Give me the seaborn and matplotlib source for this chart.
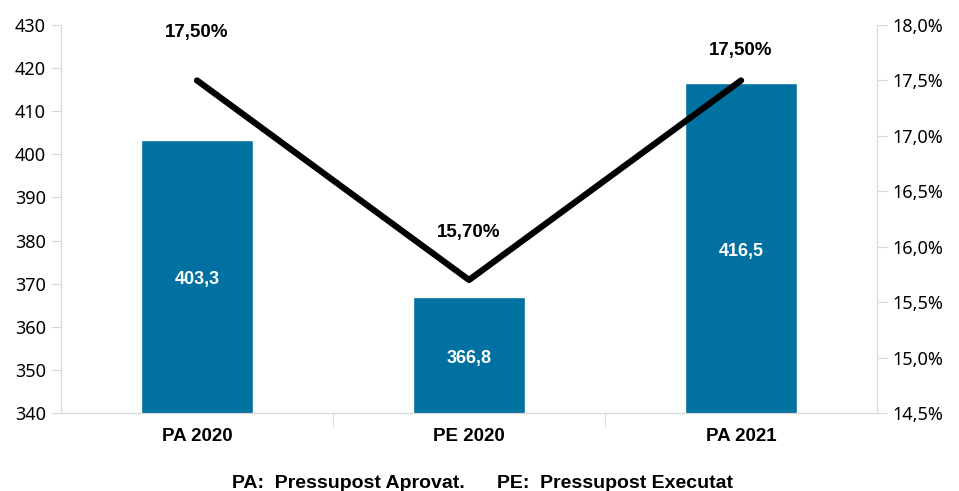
import matplotlib
matplotlib.use('Agg')
import matplotlib.pyplot as plt
import seaborn as sns

categories = ['PA 2020', 'PE 2020', 'PA 2021']
imports = [403.3, 366.8, 416.5]
percents = [17.5, 15.7, 17.5]

sns.set_style('white')
plt.rcParams['font.family'] = ['Noto Sans', 'DejaVu Sans']
plt.rcParams['text.color'] = 'black'
plt.rcParams['xtick.color'] = 'black'
plt.rcParams['ytick.color'] = 'black'
bold_font = ['Liberation Sans', 'DejaVu Sans']

fig = plt.figure(figsize=(9.59, 4.91), dpi=100)
ax = fig.add_axes([0.0636, 0.159, 0.851, 0.790])

sns.barplot(x=categories, y=imports, color='#0071a1', saturation=1, width=0.41, ax=ax)
ax.set_ylim(340, 430)
ax.set_yticks(range(340, 431, 10))
ax.set_xlim(-0.5, 2.5)

grey = '#d9d9d9'
for s in ['left', 'bottom', 'right']:
    ax.spines[s].set_color(grey)
ax.spines['top'].set_visible(False)
ax.tick_params(axis='y', left=True, length=7, color=grey, labelcolor='black', labelsize=13, pad=4)
ax.tick_params(axis='x', length=0, labelcolor='black', labelsize=13.5, pad=11)
ax.set_xticks([0.5, 1.5], minor=True)
ax.tick_params(axis='x', which='minor', bottom=True, length=10, color=grey)
for lab in ax.get_xticklabels():
    lab.set_fontweight('bold')
    lab.set_family(bold_font)

for i, v in enumerate(imports):
    ax.text(i, (340 + v) / 2 - 0.7, f'{v:.1f}'.replace('.', ','), ha='center', va='center',
            color='white', fontsize=13, fontweight='bold', family=bold_font)

ax2 = ax.twinx()
sns.lineplot(x=[0, 1, 2], y=percents, color='black', linewidth=4.5, sort=False, ax=ax2)
ax2.set_ylim(14.5, 18.0)
ax2.set_yticks([14.5 + 0.5 * i for i in range(8)])
ax2.yaxis.set_major_formatter(plt.FuncFormatter(lambda x, _: f'{x:.1f}%'.replace('.', ',')))
ax2.tick_params(axis='y', right=True, length=7, color=grey, labelcolor='black', labelsize=13, pad=4)
for s in ['left', 'bottom', 'right']:
    ax2.spines[s].set_color(grey)
ax2.spines['top'].set_visible(False)
ax2.set_xlim(-0.5, 2.5)

offsets = [0.43, 0.43, 0.27]
for i, (p, off) in enumerate(zip(percents, offsets)):
    ax2.text(i, p + off, f'{p:.2f}%'.replace('.', ','), ha='center', va='center',
             color='black', fontsize=13.5, fontweight='bold', family=bold_font)

fig.text(0.503, 0.006, 'PA:  Pressupost Aprovat.      PE:  Pressupost Executat',
         ha='center', va='baseline', color='black', fontsize=14, fontweight='bold',
         family=bold_font)

fig.savefig('out.png', dpi=100)
